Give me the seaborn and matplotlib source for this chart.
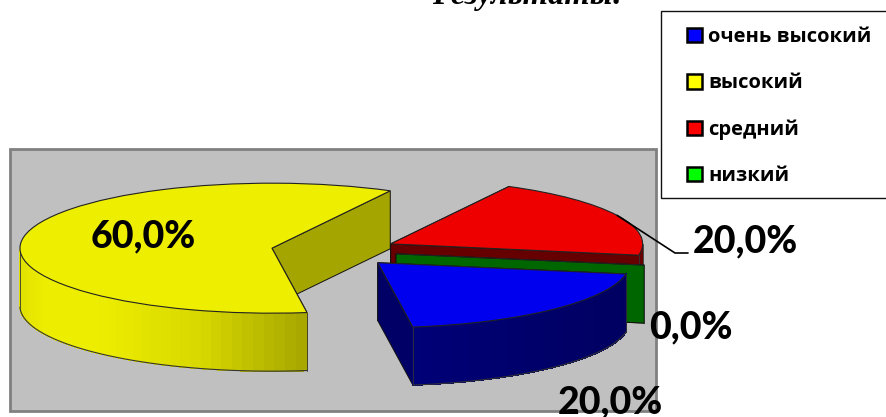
import numpy as np
import matplotlib
matplotlib.use("Agg")
import matplotlib.pyplot as plt
from matplotlib.patches import Patch, Rectangle
import seaborn as sns

categories = ["очень высокий", "высокий", "средний", "низкий"]
values = [20.0, 60.0, 20.0, 0.0]
title = "Результаты:"

top_colors = ["#0000EE", "#EEEE00", "#EE0000", "#00CC00"]
legend_colors = ["#0000FF", "#FFFF00", "#FF0000", "#00FF00"]
face_colors = ["#000066", "#A5A500", "#660000", "#006600"]
base_rgb = [(0, 0, 1), (1, 1, 0), (1, 0, 0), (0, 1, 0)]

# shade of the round side, by cos(angle)
shade_x = {0: [0.13, 0.99], 1: [-1.0, -0.9, -0.68, -0.29, 0.14], 2: [0.9, 1.0], 3: [0.9, 1.0]}
shade_y = {0: [0.47, 0.38], 1: [0.88, 0.93, 0.93, 0.85, 0.65], 2: [0.4, 0.4], 3: [0.4, 0.4]}

W, H = 886, 417
CX, CY = 334, 251   # pie centre in pixels
RX, RY = 252, 65    # pie radii in pixels
DEPTH = 58 / RY

sns.set_theme(style="white")
plt.rcParams["font.family"] = ["Lato", "Noto Sans", "DejaVu Sans"]


def px(x, y):
    return (x - CX) / RX, (CY - y) / RY


fig = plt.figure(figsize=(W / 100, H / 100), dpi=100, facecolor="white")
ax = fig.add_axes([0, 0, 1, 1])

wedges, _ = ax.pie(
    values,
    colors=top_colors,
    explode=[0.25] * len(values),
    startangle=350,
    counterclock=False,
    wedgeprops={"edgecolor": "#222222", "linewidth": 0.8},
)

ax.set_aspect("auto")
x0, y0 = px(0, H)
x1, y1 = px(W, 0)
ax.set_xlim(x0, x1)
ax.set_ylim(y0, y1)
ax.axis("off")
ax.set_position([0, 0, 1, 1])

# plot area
ax.add_patch(Rectangle(px(10, 411), 646 / RX, 262 / RY, facecolor="#C0C0C0",
                       edgecolor="#808080", linewidth=2, zorder=0))

draw_order = [1, 2, 3, 0]
for rank, i in enumerate(draw_order):
    w = wedges[i]
    z = 2 + rank
    cx, cy = w.center
    # flat cut faces, the back one first
    faces = []
    for t in (w.theta1, w.theta2):
        rx, ry = cx + w.r * np.cos(np.radians(t)), cy + w.r * np.sin(np.radians(t))
        faces.append((rx, ry))
    faces.sort(key=lambda p: -p[1])
    for rx, ry in faces:
        ax.fill([cx, rx, rx, cx], [cy, ry, ry - DEPTH, cy - DEPTH], facecolor=face_colors[i],
                edgecolor="#111111", linewidth=0.7, zorder=z)
    # round side
    th = np.linspace(w.theta1, w.theta2, 90)
    th = th[np.sin(np.radians(th)) <= 0.001]
    for a, b in zip(th[:-1], th[1:]):
        s = np.interp(np.cos(np.radians((a + b) / 2)), shade_x[i], shade_y[i])
        c = tuple(s * v for v in base_rgb[i])
        xs = cx + w.r * np.cos(np.radians([a, b]))
        ys = cy + w.r * np.sin(np.radians([a, b]))
        ax.fill([xs[0], xs[1], xs[1], xs[0]], [ys[0], ys[1], ys[1] - DEPTH, ys[0] - DEPTH],
                facecolor=c, edgecolor=c, linewidth=0.5, antialiased=False, zorder=z)
    if len(th) > 1:
        xs = cx + w.r * np.cos(np.radians(th))
        ys = cy + w.r * np.sin(np.radians(th))
        ax.plot(xs, ys - DEPTH, color="#333333", lw=0.8, zorder=z)
        ax.plot([xs[0], xs[0]], [ys[0], ys[0] - DEPTH], color="#333333", lw=0.6, zorder=z)
        ax.plot([xs[-1], xs[-1]], [ys[-1], ys[-1] - DEPTH], color="#333333", lw=0.6, zorder=z)
    w.set_zorder(z + 0.5)

# leader line of the red slice
red = wedges[2]
mid = np.radians((red.theta1 + red.theta2) / 2)
lx = [red.center[0] + red.r * np.cos(mid), px(675, 253)[0], px(688, 253)[0]]
ly = [red.center[1] + red.r * np.sin(mid), px(675, 253)[1], px(688, 253)[1]]
ax.plot(lx, ly, color="black", lw=1.2, zorder=10)

# data labels
label_pos = [(610, 402), (143, 236), (745, 241), (691, 327)]
for v, (tx, ty) in zip(values, label_pos):
    s = f"{v:.1f}".replace(".", ",") + "%"
    ax.text(*px(tx, ty), s, fontsize=27, fontweight="black", color="black",
            ha="center", va="center", zorder=11)

# legend, box runs off the right edge
ax.add_patch(Rectangle(px(660.5, 197.5), 240 / RX, 186 / RY, facecolor="white",
                       edgecolor="#111111", linewidth=1.0, zorder=12, clip_on=True))
handles = [Patch(facecolor=c, edgecolor="black", linewidth=1.8) for c in legend_colors]
leg = ax.legend(handles, categories, loc="upper left", bbox_to_anchor=px(681, 21),
                bbox_transform=ax.transData, frameon=False,
                prop={"family": ["Open Sans"], "weight": "bold", "size": 14.5},
                handlelength=0.75, handleheight=0.75, handletextpad=0.3,
                labelspacing=1.3, borderpad=0.3, borderaxespad=0)
leg.set_zorder(13)
for t in leg.get_texts():
    t.set_color("black")

fig.text(528 / W, 1 - 4 / H, title, family="Liberation Serif", fontsize=23.5,
         fontweight="bold", style="italic", ha="center", va="baseline", color="black")

fig.savefig("out.png", dpi=100)
